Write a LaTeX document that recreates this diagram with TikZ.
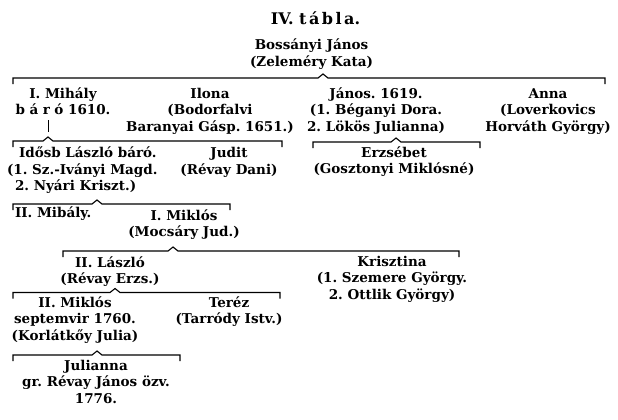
\documentclass[tikz,border=0pt]{standalone}
\usepackage{fontspec}
\setmainfont{DejaVu Serif}
\newcommand\blk[1]{\begin{tabular}[t]{@{}c@{}}#1\end{tabular}}
\newcommand\blkl[1]{\begin{tabular}[t]{@{}l@{}}#1\end{tabular}}
\newcommand\famline[3]{\draw[bracketline] ([yshift=-6pt]#1) -- (#1) -- ([xshift=-5pt]#2) -- ([yshift=4pt]#2) -- ([xshift=5pt]#2) -- (#3) -- ([yshift=-6pt]#3);}
\tikzset{
  person/.style={inner sep=0pt, outer sep=0pt, anchor=base, font=\frenchspacing\bfseries\fontsize{13.5}{16.6}\selectfont},
  titletext/.style={inner sep=0pt, anchor=base, font=\frenchspacing\bfseries\fontsize{16}{20}\selectfont},
  bracketline/.style={line width=1.1pt, line join=miter},
  stem/.style={line width=0.9pt}
}
\begin{document}
\frenchspacing
\begin{tikzpicture}[x=1pt,y=-1pt]
\useasboundingbox (0,0) rectangle (618,420);
\fill[white] (0,0) rectangle (618,420);

\node[titletext] (title) at (315.5,25) {IV. t\kern2.5pt á\kern2.5pt b\kern2.5pt l\kern2.5pt a.};

\node[person] (root) at (311.5,50) {\blk{Bossányi János\\(Zeleméry Kata)}};

% top family line
\coordinate (t-l) at (13,78);
\coordinate (t-c) at (323,78);
\coordinate (t-r) at (605,78);
\famline{t-l}{t-c}{t-r}

\node[person] (mihaly1) at (63,98) {\blk{I. Mihály\\b\kern4.5pt á\kern4.5pt r\kern4.5pt ó 1610.}};
\node[person] (ilona) at (210,98) {\blk{Ilona\\(Bodorfalvi\\Baranyai Gásp. 1651.)}};
\node[person] (janos) at (376,98) {\blk{János. 1619.\\(1. Béganyi Dora.\\2. Lökös Julianna)}};
\node[person] (anna) at (548,98) {\blk{Anna\\(Loverkovics\\Horváth György)}};

\coordinate (s-top) at (48,120);
\coordinate (s-bot) at (48,132);
\draw[stem] (s-top) -- (s-bot);

% children of I. Mihály
\coordinate (m-l) at (13,141);
\coordinate (m-c) at (48,141);
\coordinate (m-r) at (282,141);
\famline{m-l}{m-c}{m-r}

% children of János
\coordinate (j-l) at (313,142);
\coordinate (j-c) at (396,142);
\coordinate (j-r) at (480,142);
\famline{j-l}{j-c}{j-r}

\node[person, anchor=base west] (laszlo1) at (7,157.5) {\blkl{\hspace*{12pt}Idősb László báró.\\(1. Sz.-Iványi Magd.\\\hspace*{8pt}2. Nyári Kriszt.)}};
\node[person] (judit) at (229,157.5) {\blk{Judit\\(Révay Dani)}};
\node[person] (erzsebet) at (394,157) {\blk{Erzsébet\\(Gosztonyi Miklósné)}};

% children of Idősb László
\coordinate (l-l) at (13,204);
\coordinate (l-c) at (97,204);
\coordinate (l-r) at (230,204);
\famline{l-l}{l-c}{l-r}

\node[person, anchor=base west] (mihaly2) at (15,217) {II. Mibály.};
\node[person] (miklos1) at (184,220) {\blk{I. Miklós\\(Mocsáry Jud.)}};

% children of I. Miklós
\coordinate (k-l) at (63,251);
\coordinate (k-c) at (173,251);
\coordinate (k-r) at (459,251);
\famline{k-l}{k-c}{k-r}

\node[person] (laszlo2) at (110,267) {\blk{II. László\\(Révay Erzs.)}};
\node[person] (krisztina) at (392,266) {\blk{Krisztina\\(1. Szemere György.\\2. Ottlik György)}};

% children of II. László
\coordinate (z-l) at (13,292.5);
\coordinate (z-c) at (115,292.5);
\coordinate (z-r) at (280,292.5);
\famline{z-l}{z-c}{z-r}

\node[person] (miklos2) at (75,307) {\blk{II. Miklós\\septemvir 1760.\\(Korlátkőy Julia)}};
\node[person] (terez) at (229,307) {\blk{Teréz\\(Tarródy Istv.)}};

% children of II. Miklós
\coordinate (n-l) at (13,355);
\coordinate (n-c) at (97,355);
\coordinate (n-r) at (180,355);
\famline{n-l}{n-c}{n-r}

\node[person] (julianna) at (96,370) {\blk{Julianna\\gr. Révay János özv.\\1776.}};
\end{tikzpicture}
\end{document}
